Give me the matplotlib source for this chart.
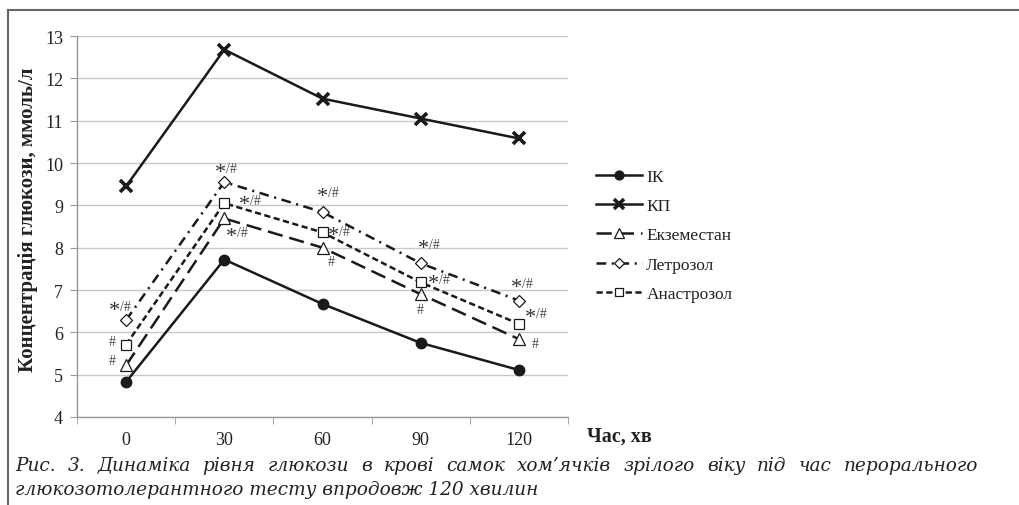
# Glucose tolerance test curves, hamsters, 5 groups
import matplotlib
matplotlib.use("Agg")
import matplotlib.pyplot as plt
from matplotlib.lines import Line2D

plt.rcParams['font.family'] = ['Liberation Serif', 'DejaVu Serif']
plt.rcParams['lines.scale_dashes'] = False

time_labels = ["0", "30", "60", "90", "120"]
ik = [4.83, 7.72, 6.67, 5.75, 5.11]
kp = [9.45, 12.68, 11.52, 11.05, 10.58]
exemestane = [5.22, 8.69, 8.00, 6.90, 5.84]
letrozole = [6.29, 9.55, 8.84, 7.63, 6.75]
anastrozole = [5.71, 9.05, 8.36, 7.18, 6.20]

series_names = ["ІК", "КП", "Екземестан", "Летрозол", "Анастрозол"]

# significance marks: (series, time index, text)
marks = [
    ("letrozole", 0, "*/#"), ("anastrozole", 0, "#"), ("exemestane", 0, "#"),
    ("letrozole", 1, "*/#"), ("anastrozole", 1, "*/#"), ("exemestane", 1, "*/#"),
    ("letrozole", 2, "*/#"), ("anastrozole", 2, "*/#"), ("exemestane", 2, "#"),
    ("letrozole", 3, "*/#"), ("anastrozole", 3, "*/#"), ("exemestane", 3, "#"),
    ("letrozole", 4, "*/#"), ("anastrozole", 4, "*/#"), ("exemestane", 4, "#"),
]
# label offsets in pixels (style, not data)
offsets = [(-6, 13), (-14, 3), (-14, 5),
           (2, 13), (26, 2), (13, -15),
           (6, 19), (17, 0), (9, -14),
           (9, 18), (19, 2), (0, -15),
           (4, 16), (18, 9), (16, -4)]

caption1 = "Рис. 3. Динаміка рівня глюкози в крові самок хом\u2019ячків зрілого віку під час перорального"
caption2 = "глюкозотолерантного тесту впродовж 120 хвилин"

values = {"ik": ik, "kp": kp, "exemestane": exemestane,
          "letrozole": letrozole, "anastrozole": anastrozole}

W, H = 1019, 506
fig = plt.figure(figsize=(W / 100, H / 100), dpi=100)
ax = fig.add_axes([77 / W, 1 - 418 / H, 491 / W, 381 / H])

x = list(range(len(time_labels)))
ink = "#1a1a1a"
ax.plot(x, ik, color=ink, lw=1.8, marker="o", ms=7.5, mfc=ink, mec=ink,
        label=series_names[0], zorder=5)
ax.plot(x, kp, color=ink, lw=1.8, marker="x", ms=8, mew=2.6,
        label=series_names[1], zorder=5)
ax.plot(x, exemestane, color=ink, lw=1.8, dashes=(11, 5), marker="^", ms=8,
        mfc="white", mec=ink, mew=0.9, label=series_names[2], zorder=5)
ax.plot(x, letrozole, color=ink, lw=1.8, dashes=(7, 4, 1.5, 4), marker="D",
        ms=6.5, mfc="white", mec=ink, mew=0.9, label=series_names[3], zorder=5)
ax.plot(x, anastrozole, color=ink, lw=1.8, dashes=(4.5, 2.5), marker="s",
        ms=7.5, mfc="white", mec=ink, mew=0.9, label=series_names[4], zorder=5)

for (name, i, txt), (dx, dy) in zip(marks, offsets):
    yv = values[name][i]
    if txt == "#":
        ax.annotate("#", (i, yv), xytext=(dx, dy), textcoords="offset pixels",
                    ha="center", va="center", fontsize=10, color="#444444")
    else:
        ax.annotate("*", (i, yv), xytext=(dx - 6, dy - 3), textcoords="offset pixels",
                    ha="center", va="center", fontsize=16, color="#333333")
        ax.annotate("/#", (i, yv), xytext=(dx + 5, dy + 1), textcoords="offset pixels",
                    ha="center", va="center", fontsize=10, color="#444444")

ax.set_xlim(-0.5, 4.5)
ax.set_ylim(4, 13)
ax.set_yticks(range(4, 14))
ax.set_xticks(x)
ax.set_xticklabels(time_labels)
ax.set_xticks([i - 0.5 for i in range(6)], minor=True)
ax.tick_params(axis="x", which="major", length=0, pad=10, labelsize=13, labelcolor="#222222")
ax.tick_params(axis="x", which="minor", length=5, color="#999999", direction="out")
ax.tick_params(axis="y", length=5, color="#999999", labelsize=13, labelcolor="#222222", pad=5)
ax.grid(axis="y", color="#c8c8c8", lw=1.0)
ax.set_axisbelow(True)
for s in ["top", "right"]:
    ax.spines[s].set_visible(False)
for s in ["left", "bottom"]:
    ax.spines[s].set_color("#999999")
    ax.spines[s].set_linewidth(1.0)

ax.set_ylabel("Концентрація глюкози, ммоль/л", fontsize=15, fontweight="bold",
              color="#222222")
ax.yaxis.set_label_coords((38 - 77) / 491, (418 - 220) / 381)
fig.text(587 / W, 1 - 437 / H, "Час, хв", fontsize=14.5, fontweight="bold",
         color="#222222", va="center", ha="left")

leg = ax.legend(loc="upper left", bbox_to_anchor=(596 / W, 1 - 170 / H),
                bbox_transform=fig.transFigure, frameon=False, fontsize=12.5,
                handlelength=2.65, handletextpad=0.25, labelspacing=0.75,
                borderpad=0, borderaxespad=0, markerscale=0.85)
for t in leg.get_texts():
    t.set_color("#222222")

# caption: first line justified between the frame margins
cap_style = dict(fontsize=13.3, style="italic", family="DejaVu Serif",
                 color="#222222", va="center")
renderer = fig.canvas.get_renderer()
words = caption1.split(" ")
pieces = [fig.text(0, 1 - 466 / H, w, **cap_style) for w in words]
widths = [p.get_window_extent(renderer).width for p in pieces]
gap = (978 - 15 - sum(widths)) / (len(words) - 1)
xpos = 15
for p, w in zip(pieces, widths):
    p.set_x(xpos / W)
    xpos += w + gap
fig.text(15 / W, 1 - 490 / H, caption2, **cap_style)

# frame lines (top and left)
fig.add_artist(Line2D([7.5 / W, 1.0], [1 - 10.5 / H] * 2, transform=fig.transFigure,
                      color="#666666", lw=1.5))
fig.add_artist(Line2D([7.5 / W] * 2, [0.0, 1 - 10.5 / H], transform=fig.transFigure,
                      color="#666666", lw=1.5))

fig.savefig("out.png", dpi=100)
